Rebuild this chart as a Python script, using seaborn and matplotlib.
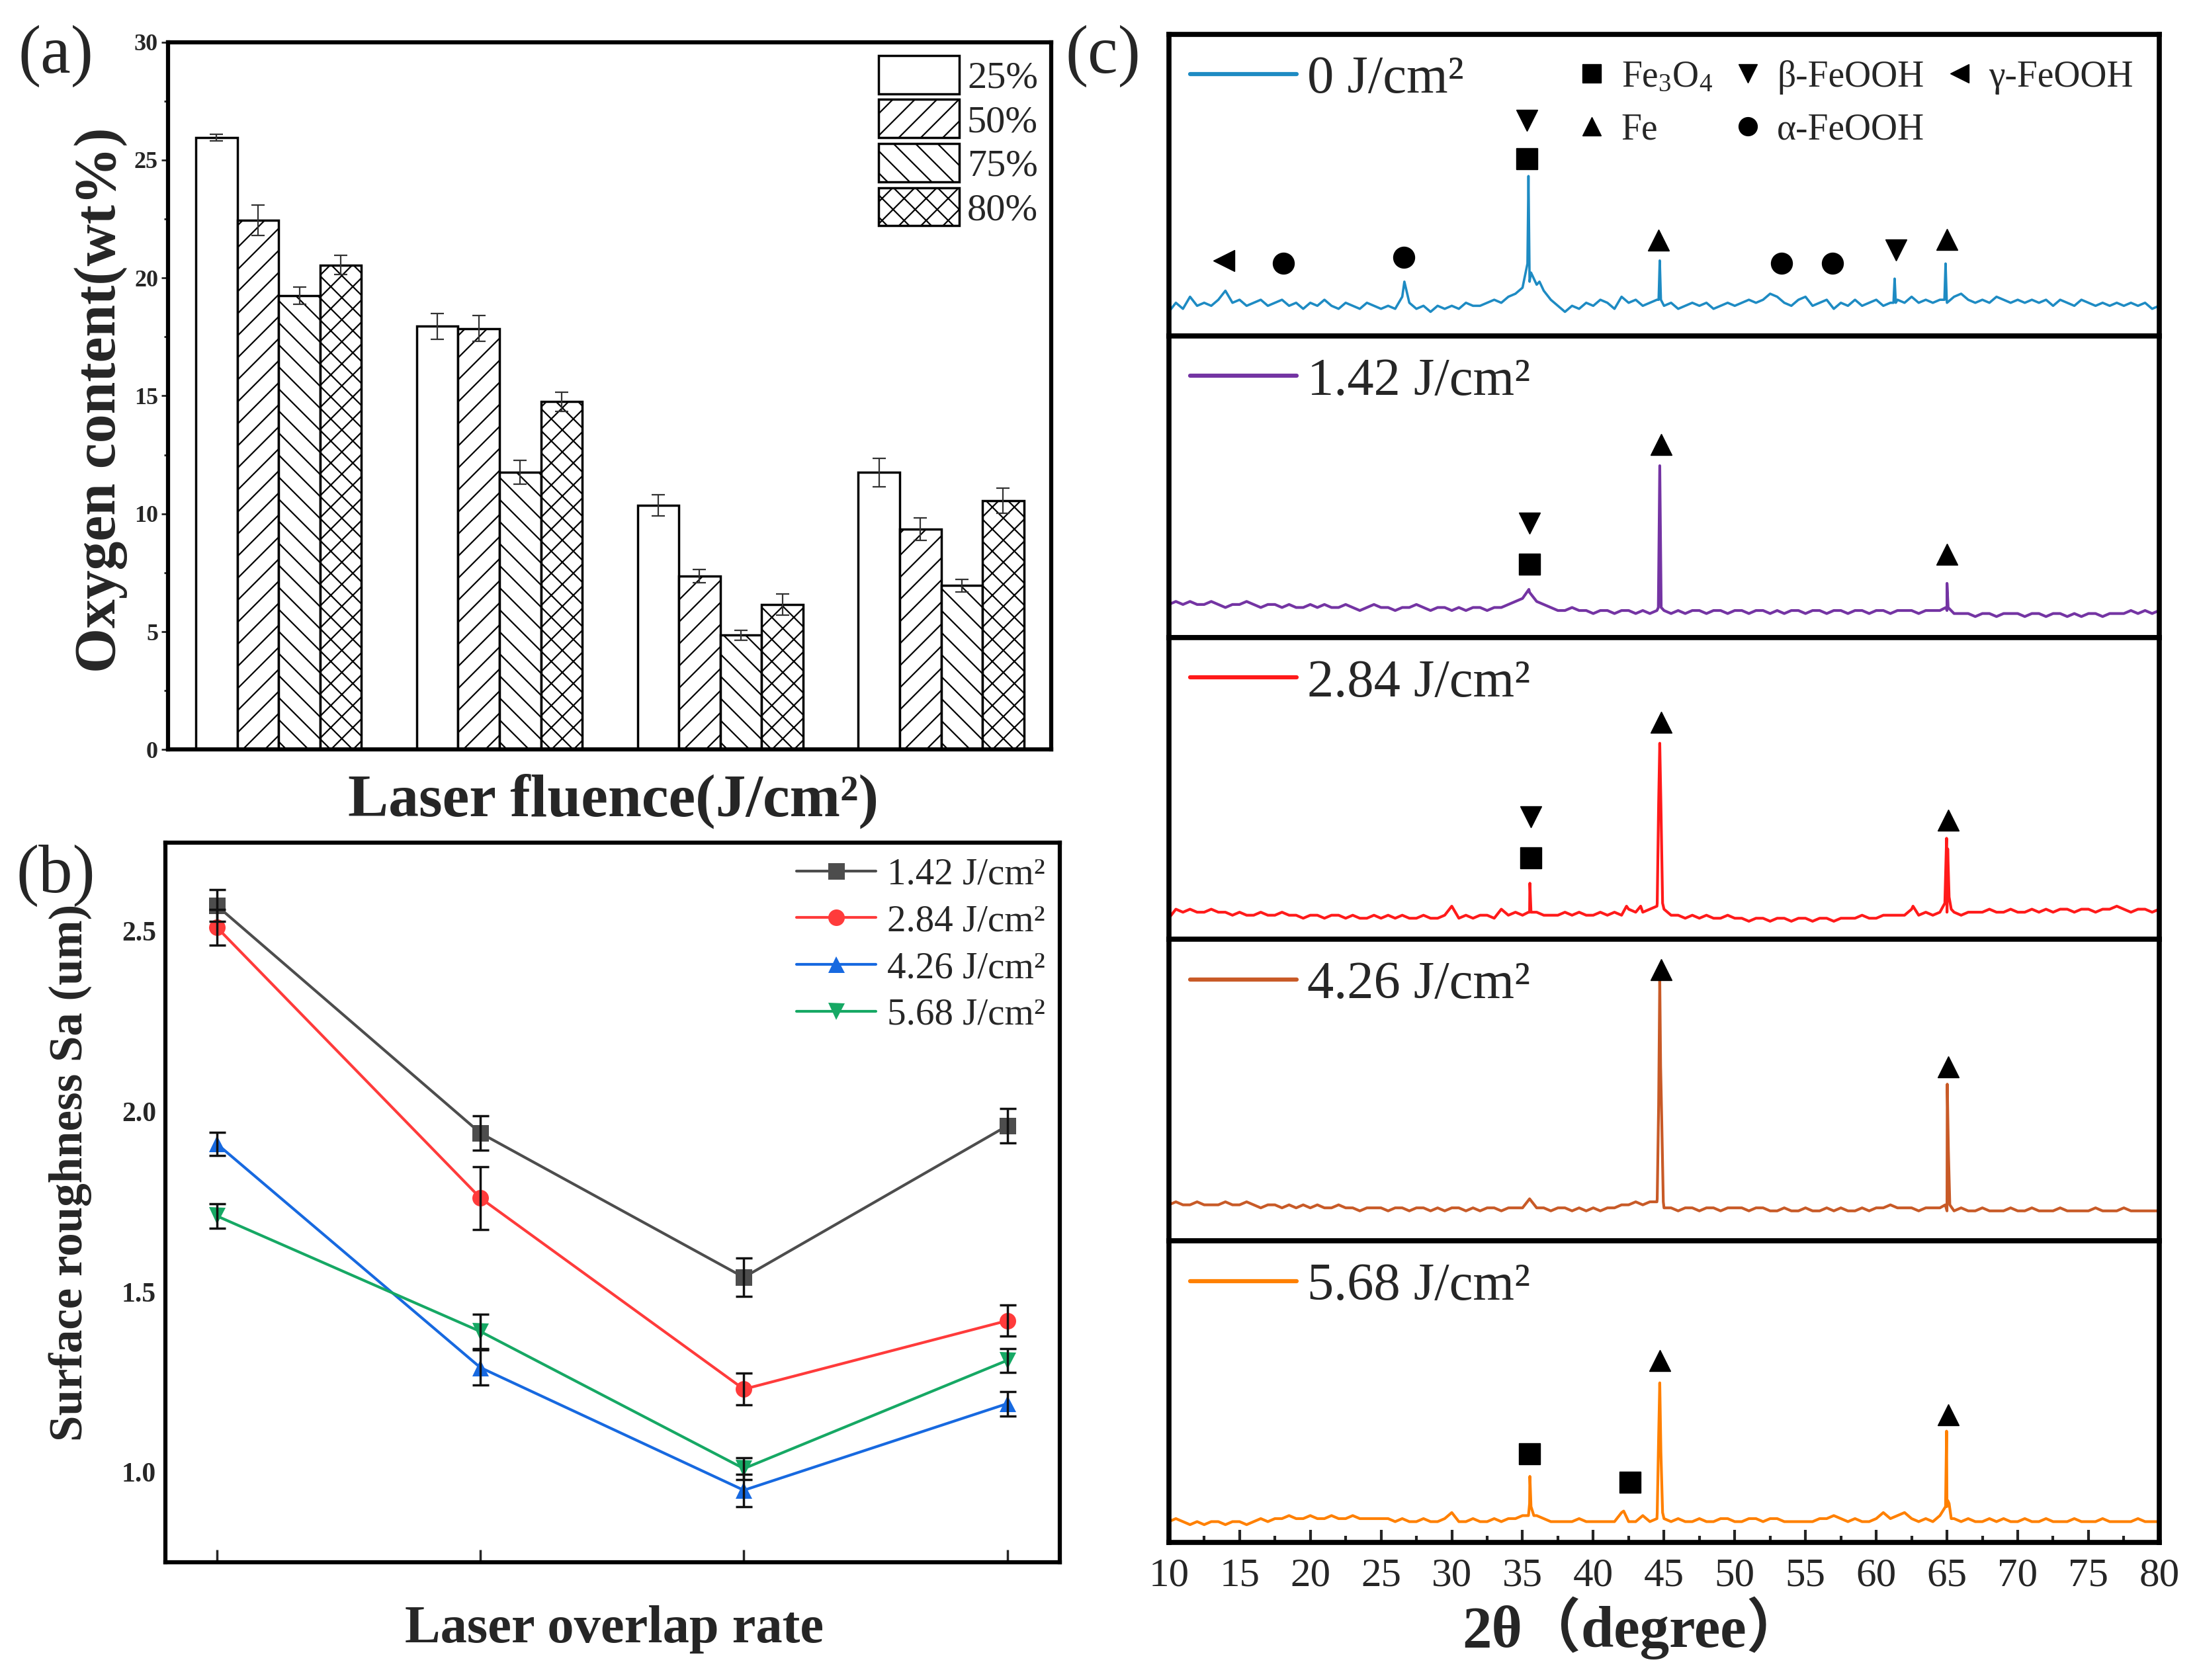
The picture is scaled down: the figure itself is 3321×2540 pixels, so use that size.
import numpy as np
import pandas as pd
import matplotlib
matplotlib.use('Agg')
import matplotlib.pyplot as plt
import seaborn as sns
from matplotlib.lines import Line2D
from matplotlib.patches import Patch
from matplotlib.ticker import MultipleLocator

# ---------------- data ----------------
# (a) oxygen content vs laser fluence, one list per overlap rate
fluences = ['1.42', '2.84', '4.26', '5.68']
rates = ['25%', '50%', '75%', '80%']
oxy_25 = [25.95, 17.95, 10.35, 11.75]
oxy_50 = [22.45, 17.85, 7.35, 9.35]
oxy_75 = [19.25, 11.75, 4.85, 6.95]
oxy_80 = [20.55, 14.75, 6.15, 10.55]
err_25 = [0.15, 0.55, 0.45, 0.60]
err_50 = [0.65, 0.55, 0.28, 0.47]
err_75 = [0.37, 0.50, 0.20, 0.27]
err_80 = [0.40, 0.40, 0.45, 0.54]
hatches = ['', '/', '\\', 'x']

# (b) surface roughness vs overlap rate, one list per fluence
overlap_pos = [0, 1, 2, 3]
b_labels = ['1.42 J/cm²', '2.84 J/cm²', '4.26 J/cm²', '5.68 J/cm²']
sa_142 = [2.57, 1.94, 1.54, 1.96]
sa_284 = [2.51, 1.76, 1.23, 1.42]
sa_426 = [1.91, 1.29, 0.95, 1.19]
sa_568 = [1.71, 1.39, 1.01, 1.31]
sa_err_142 = [0.044, 0.047, 0.053, 0.047]
sa_err_284 = [0.049, 0.087, 0.044, 0.043]
sa_err_426 = [0.032, 0.049, 0.045, 0.034]
sa_err_568 = [0.034, 0.047, 0.030, 0.033]
b_colors = ['#4d4d4d', '#ff3b3b', '#1769e0', '#16a864']
b_markers = ['s', 'o', '^', 'v']

# (c) XRD patterns, baseline read every 0.5 degree from 10 to 80 (% of panel height)
xrd_labels = ['0 J/cm²', '1.42 J/cm²', '2.84 J/cm²', '4.26 J/cm²', '5.68 J/cm²']
xrd_colors = ['#1e8bc3', '#7434a3', '#ff1a1a', '#c85a27', '#ff8000']

base_0 = [8, 11, 9, 13, 10, 11, 10, 12, 15, 11,
          12, 10, 11, 12, 10, 11, 12, 10, 11, 9,
          11, 10, 12, 10, 9, 11, 10, 9, 11, 10,
          9, 10, 9, 13, 11, 9, 10, 8, 10, 9,
          10, 9, 11, 10, 10, 11, 12, 11, 13, 14,
          16, 18, 17, 15, 12, 10, 8, 10, 9, 11,
          10, 12, 11, 9, 13, 11, 12, 10, 11, 12,
          10, 11, 9, 10, 11, 10, 11, 9, 10, 11,
          10, 11, 12, 11, 12, 14, 13, 11, 10, 12,
          13, 10, 11, 12, 9, 11, 10, 12, 10, 11,
          12, 10, 11, 12, 11, 13, 11, 12, 11, 12,
          11, 13, 14, 12, 11, 12, 11, 13, 12, 11,
          12, 11, 12, 11, 12, 10, 12, 11, 10, 12,
          11, 10, 11, 10, 11, 10, 11, 10, 11, 9, 10]
base_1 = [11, 12, 11, 12, 11, 11, 12, 11, 10, 11,
          11, 12, 11, 10, 11, 11, 10, 11, 10, 10,
          11, 10, 11, 10, 10, 11, 10, 9, 10, 11,
          10, 10, 9, 10, 10, 11, 10, 9, 10, 10,
          9, 10, 9, 10, 10, 9, 10, 10, 11, 12,
          13, 15, 12, 11, 10, 9, 9, 10, 9, 9,
          8, 9, 9, 8, 9, 9, 8, 9, 8, 9,
          9, 8, 9, 8, 9, 9, 8, 9, 9, 8,
          9, 9, 8, 9, 9, 8, 9, 8, 9, 9,
          8, 9, 9, 8, 9, 9, 8, 9, 9, 8,
          9, 9, 8, 9, 9, 9, 8, 9, 9, 9,
          9, 8, 8, 8, 7, 8, 8, 7, 8, 8,
          8, 7, 8, 8, 7, 8, 8, 7, 8, 7,
          8, 8, 7, 8, 8, 8, 9, 8, 9, 8, 9]
base_2 = [7, 10, 9, 10, 9, 9, 10, 9, 9, 8,
          9, 8, 8, 9, 8, 8, 9, 8, 8, 7,
          8, 8, 7, 8, 8, 7, 8, 7, 7, 8,
          7, 8, 7, 8, 7, 7, 8, 7, 7, 8,
          11, 7, 8, 7, 8, 8, 7, 10, 8, 9,
          8, 9, 9, 8, 8, 8, 9, 8, 9, 8,
          8, 9, 8, 9, 8, 10, 9, 9, 10, 11,
          10, 8, 8, 7, 8, 7, 8, 7, 7, 8,
          7, 7, 6, 7, 7, 6, 7, 7, 6, 7,
          7, 6, 7, 7, 6, 7, 7, 7, 8, 7,
          7, 8, 8, 8, 8, 10, 8, 9, 8, 9,
          9, 9, 8, 9, 9, 9, 10, 9, 9, 10,
          9, 9, 10, 9, 10, 9, 10, 10, 9, 10,
          10, 9, 10, 10, 11, 10, 9, 10, 10, 9, 10]
base_3 = [12, 13, 12, 12, 13, 12, 12, 12, 13, 12,
          12, 13, 12, 11, 12, 12, 11, 12, 11, 12,
          11, 12, 11, 11, 12, 11, 11, 10, 11, 11,
          11, 10, 11, 11, 10, 11, 11, 10, 11, 10,
          11, 11, 10, 11, 10, 11, 11, 10, 11, 11,
          11, 14, 11, 11, 10, 11, 11, 10, 11, 10,
          11, 10, 11, 11, 12, 12, 13, 12, 13, 13,
          11, 11, 10, 11, 11, 10, 11, 11, 10, 11,
          11, 11, 10, 11, 11, 10, 10, 11, 10, 10,
          11, 10, 10, 11, 10, 11, 10, 10, 11, 10,
          11, 11, 12, 11, 11, 11, 10, 11, 11, 11,
          10, 10, 11, 10, 10, 11, 10, 10, 10, 11,
          10, 10, 11, 10, 10, 10, 11, 10, 10, 10,
          10, 11, 10, 10, 10, 11, 10, 10, 10, 10, 10]
base_4 = [7, 8, 7, 6, 7, 6, 7, 7, 6, 7,
          7, 6, 7, 8, 7, 8, 8, 9, 8, 8,
          9, 8, 8, 9, 8, 8, 9, 8, 8, 8,
          8, 8, 7, 8, 7, 7, 8, 7, 7, 8,
          10, 7, 7, 8, 7, 7, 8, 7, 8, 8,
          9, 13, 9, 8, 7, 7, 7, 7, 8, 7,
          7, 7, 7, 7, 10, 7, 7, 9, 7, 8,
          8, 7, 8, 7, 7, 8, 7, 7, 8, 8,
          7, 7, 8, 8, 7, 8, 8, 7, 7, 7,
          7, 7, 8, 8, 9, 8, 7, 8, 7, 7,
          8, 10, 8, 9, 10, 8, 7, 8, 7, 9,
          12, 8, 7, 8, 7, 7, 8, 7, 8, 7,
          7, 8, 7, 7, 8, 7, 7, 7, 8, 7,
          7, 7, 8, 7, 7, 7, 7, 8, 7, 7, 7]

# sharp peaks
peak_x_0 = [26.65, 35.35, 35.42, 35.6, 36.2, 44.62, 44.7, 44.78, 61.22, 61.3, 61.38, 64.82, 64.9, 64.98]
peak_y_0 = [18, 24, 53, 21, 18, 12, 25, 12, 11, 19, 11, 12, 24, 12]
peak_x_1 = [35.45, 44.6, 44.7, 44.8, 64.92, 65.0, 65.08]
peak_y_1 = [16, 10, 57, 10, 10, 18, 10]
peak_x_2 = [35.42, 35.52, 35.6, 42.35, 43.35, 44.52, 44.62, 44.7, 44.78, 44.9, 62.6, 64.85, 64.97, 65.05, 65.15, 65.3]
peak_y_2 = [9, 18.6, 9, 11, 11, 12, 45, 65, 45, 12, 11, 12, 33.5, 30, 14, 10]
peak_x_3 = [44.52, 44.62, 44.7, 44.76, 44.84, 44.95, 64.88, 65.02, 65.1, 65.2]
peak_y_3 = [14, 45, 87, 58, 40, 13, 12, 52, 30, 12]
peak_x_4 = [35.42, 35.52, 35.6, 35.8, 42.15, 44.52, 44.62, 44.7, 44.78, 44.9, 64.9, 64.97, 65.05, 65.15, 65.3]
peak_y_4 = [9, 22, 12, 9, 10.5, 10, 35, 53, 30, 10, 12, 37, 14, 13, 8]

# phase markers (2theta, height %, marker)
mk_0 = [(13.9, 25, '<'), (18.1, 24, 'o'), (26.6, 26, 'o'), (35.3, 71.5, 'v'), (35.3, 58.8, 's'),
        (44.6, 31.7, '^'), (53.3, 24, 'o'), (56.9, 24, 'o'), (61.4, 28.5, 'v'), (65.0, 32, '^')]
mk_1 = [(35.5, 38, 'v'), (35.5, 24.3, 's'), (44.8, 64, '^'), (65.0, 27.6, '^')]
mk_2 = [(35.6, 40.5, 'v'), (35.6, 27, 's'), (44.8, 72, '^'), (65.1, 39.5, '^')]
mk_3 = [(44.8, 90, '^'), (65.1, 57.7, '^')]
mk_4 = [(35.5, 29.5, 's'), (42.6, 20, 's'), (44.7, 60.5, '^'), (65.1, 42.4, '^')]
phase_names = ['Fe$_3$O$_4$', 'Fe', 'β-FeOOH', 'α-FeOOH', 'γ-FeOOH']
phase_markers = ['s', '^', 'v', 'o', '<']

# ---------------- style ----------------
sns.set_theme(style='white')
plt.rcParams['font.family'] = ['Liberation Serif', 'Noto Sans CJK SC']
plt.rcParams['mathtext.fontset'] = 'custom'
plt.rcParams['mathtext.rm'] = 'Liberation Serif'
plt.rcParams['mathtext.it'] = 'Liberation Serif'
plt.rcParams['mathtext.bf'] = 'Liberation Serif:bold'
plt.rcParams['hatch.linewidth'] = 1.6
plt.rcParams['axes.edgecolor'] = 'black'

fig = plt.figure(figsize=(33.21, 25.40), dpi=100)

# ---------------- (a) bars ----------------
ax_a = fig.add_axes([0.0766, 0.5538, 0.402, 0.4212])
oxy_cols = [oxy_25, oxy_50, oxy_75, oxy_80]
err_cols = [err_25, err_50, err_75, err_80]
df_a = pd.DataFrame({
    'fluence': fluences * 4,
    'rate': np.repeat(rates, 4),
    'oxygen': np.concatenate(oxy_cols),
})
sns.barplot(data=df_a, x='fluence', y='oxygen', hue='rate', palette=['white'] * 4,
            width=0.75, edgecolor='black', linewidth=2.5, errorbar=None,
            legend=False, ax=ax_a, saturation=1)
for cont, h, errs in zip(ax_a.containers, hatches, err_cols):
    xs_bar, ys_bar = [], []
    for bar in cont:
        bar.set_hatch(h)
        xs_bar.append(bar.get_x() + bar.get_width() / 2)
        ys_bar.append(bar.get_height())
    ax_a.errorbar(xs_bar, ys_bar, yerr=errs, fmt='none', ecolor='#333333',
                  elinewidth=1.6, capsize=7, capthick=1.6, zorder=5)
ax_a.set_xlim(-0.5, 3.5)
ax_a.set_ylim(0, 30)
ax_a.yaxis.set_major_locator(MultipleLocator(5))
ax_a.yaxis.set_minor_locator(MultipleLocator(2.5))
ax_a.set_xticks([])
ax_a.set_xlabel('')
ax_a.set_ylabel('')
ax_a.tick_params(axis='y', which='major', direction='out', length=7, width=2,
                 labelsize=26, left=True, pad=4)
ax_a.tick_params(axis='y', which='minor', direction='out', length=4, width=2, left=True)
for t in ax_a.get_yticklabels():
    t.set_fontweight('bold')
for s in ax_a.spines.values():
    s.set_linewidth(4.5)
a_handles = [Patch(facecolor='white', edgecolor='black', hatch=h, linewidth=2.5, label=r)
             for h, r in zip(hatches, rates)]
ax_a.legend(handles=a_handles, loc='upper right', frameon=False, fontsize=42,
            handlelength=2.1, handleheight=1.15, labelspacing=0.1,
            handletextpad=0.2, borderaxespad=0.15, borderpad=0.2)

# ---------------- (b) lines ----------------
ax_b = fig.add_axes([0.0753, 0.0700, 0.4072, 0.4285])
sa_cols = [sa_142, sa_284, sa_426, sa_568]
sa_errs = [sa_err_142, sa_err_284, sa_err_426, sa_err_568]
df_b = pd.DataFrame({
    'pos': overlap_pos * 4,
    'sa': np.concatenate(sa_cols),
    'fluence': np.repeat(b_labels, 4),
})
sns.lineplot(data=df_b, x='pos', y='sa', hue='fluence', style='fluence',
             palette=b_colors, markers=b_markers, dashes=False, linewidth=3,
             markersize=18, markeredgewidth=0, legend=False, ax=ax_b)
for vals, errs in zip(sa_cols, sa_errs):
    ax_b.errorbar(overlap_pos, vals, yerr=errs, fmt='none', ecolor='#111111',
                  elinewidth=2.5, capsize=9, capthick=2.5, zorder=5)
ax_b.set_xlim(-0.195, 3.2)
ax_b.set_ylim(0.75, 2.745)
ax_b.set_xticks(overlap_pos)
ax_b.set_xticklabels([])
ax_b.set_yticks([1.0, 1.5, 2.0, 2.5])
ax_b.set_yticklabels(['1.0', '1.5', '2.0', '2.5'])
ax_b.set_xlabel('')
ax_b.set_ylabel('')
ax_b.tick_params(axis='x', direction='in', length=14, width=2.5, bottom=True)
ax_b.tick_params(axis='y', direction='in', length=0, labelsize=30, left=True, pad=10)
for t in ax_b.get_yticklabels():
    t.set_fontweight('bold')
for s in ax_b.spines.values():
    s.set_linewidth(4.5)
b_handles = [Line2D([], [], color=c, marker=m, markersize=18, markeredgewidth=0, linewidth=3, label=l)
             for c, m, l in zip(b_colors, b_markers, b_labels)]
ax_b.legend(handles=b_handles, loc='upper right', frameon=False, fontsize=41,
            handlelength=2.1, labelspacing=0.33, handletextpad=0.3,
            borderaxespad=0.15, borderpad=0.25)

# ---------------- (c) XRD ----------------
xs = 10 + 0.5 * np.arange(len(base_0))
bases = [base_0, base_1, base_2, base_3, base_4]
peaks_x = [peak_x_0, peak_x_1, peak_x_2, peak_x_3, peak_x_4]
peaks_y = [peak_y_0, peak_y_1, peak_y_2, peak_y_3, peak_y_4]
marks = [mk_0, mk_1, mk_2, mk_3, mk_4]

c_bottom, c_top = 0.0817, 0.9796
c_h = (c_top - c_bottom) / 5
c_axes = []
for i in range(5):
    ax = fig.add_axes([0.532, c_top - (i + 1) * c_h, 0.4508, c_h])
    x_all = np.concatenate([xs, peaks_x[i]])
    y_all = np.concatenate([bases[i], peaks_y[i]])
    order = np.argsort(x_all, kind='stable')
    sns.lineplot(x=x_all[order], y=y_all[order], sort=False, estimator=None,
                 color=xrd_colors[i], linewidth=2.6 if i == 0 else 3.0, ax=ax)
    for mx, my, mm in marks[i]:
        ax.plot(mx, my, marker=mm, color='black', markersize=23, linestyle='none')
    ax.set_xlim(10, 80)
    ax.set_ylim(0, 100)
    ax.set_yticks([])
    for s in ax.spines.values():
        s.set_linewidth(5.5)
    ax.legend(handles=[Line2D([], [], color=xrd_colors[i], linewidth=4.5)],
              labels=[xrd_labels[i]], loc='upper left', frameon=False,
              fontsize=58, handlelength=2.0, handletextpad=0.2,
              borderaxespad=0.15, borderpad=0.25)
    if i < 4:
        ax.set_xticks([])
    c_axes.append(ax)

ax0 = c_axes[0]
ax0.add_artist(ax0.get_legend())
ph_handles = [Line2D([], [], marker=m, color='black', linestyle='none', markersize=20)
              for m in phase_markers]
ax0.legend(handles=ph_handles, labels=phase_names, ncol=3, loc='upper right',
           frameon=False, fontsize=40, handletextpad=0.3, columnspacing=0.45,
           labelspacing=0.5, borderaxespad=0.4, borderpad=0.3, handlelength=1.0)

ax_c = c_axes[-1]
ax_c.set_xticks(np.arange(10, 81, 5))
ax_c.xaxis.set_minor_locator(MultipleLocator(2.5))
ax_c.tick_params(axis='x', which='major', direction='in', length=14, width=3,
                 labelsize=44, bottom=True, pad=16)
ax_c.tick_params(axis='x', which='minor', direction='in', length=7, width=3, bottom=True)

# ---------------- labels ----------------
fig.text(0.0255, 0.9666, '(a)', fontsize=74, ha='center', va='center')
fig.text(0.0255, 0.4787, '(b)', fontsize=74, ha='center', va='center')
fig.text(0.5022, 0.9666, '(c)', fontsize=74, ha='center', va='center')
fig.text(0.046, 0.762, 'Oxygen content(wt%)', fontsize=63, fontweight='bold',
         rotation=90, ha='center', va='center')
fig.text(0.279, 0.523, 'Laser fluence(J/cm²)', fontsize=66, fontweight='bold',
         ha='center', va='center')
fig.text(0.032, 0.302, 'Surface roughness Sa (um)', fontsize=51, fontweight='bold',
         rotation=90, ha='center', va='center')
fig.text(0.2797, 0.030, 'Laser overlap rate', fontsize=58, fontweight='bold',
         ha='center', va='center')
fig.text(0.7435, 0.031, '2θ（degree）', fontsize=64, fontweight='bold',
         ha='center', va='center')

fig.savefig('out.png', dpi=100, facecolor='white')
